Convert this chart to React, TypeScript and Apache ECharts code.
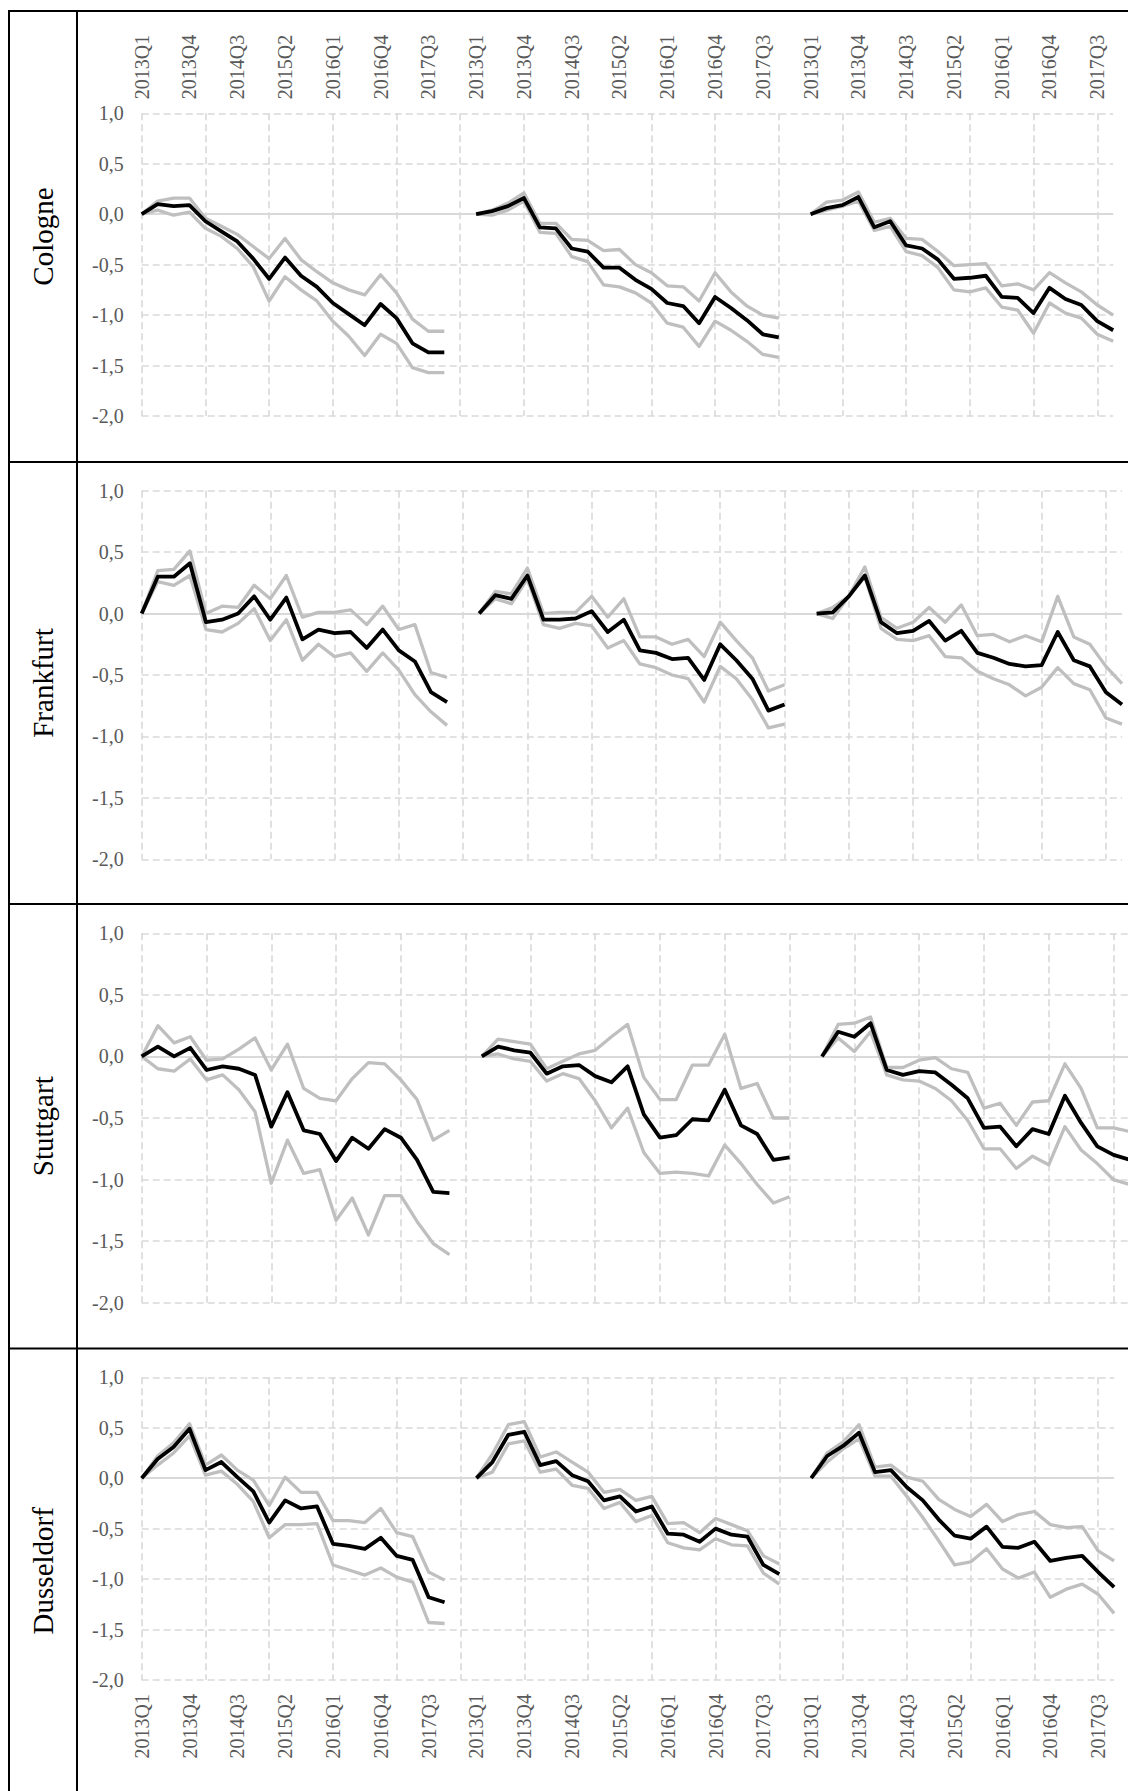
import React, { useEffect, useRef } from "react";
import * as echarts from "echarts";

// ---------- DATA ----------
const quarters = [
  "2013Q1", "2013Q2", "2013Q3", "2013Q4",
  "2014Q1", "2014Q2", "2014Q3", "2014Q4",
  "2015Q1", "2015Q2", "2015Q3", "2015Q4",
  "2016Q1", "2016Q2", "2016Q3", "2016Q4",
  "2017Q1", "2017Q2", "2017Q3", "2017Q4",
];
const cities = ["Cologne", "Frankfurt", "Stuttgart", "Dusseldorf"];
const yTicks = [-2, -1.5, -1, -0.5, 0, 0.5, 1];

// each city: three panels (left, middle, right)
const cologneMid = [
  [0, 0.10, 0.08, 0.09, -0.07, -0.17, -0.27, -0.44, -0.64, -0.43, -0.61, -0.72, -0.88, -0.99, -1.10, -0.89, -1.03, -1.28, -1.37, -1.37],
  [0, 0.03, 0.08, 0.16, -0.13, -0.14, -0.34, -0.37, -0.53, -0.53, -0.65, -0.74, -0.88, -0.91, -1.08, -0.82, -0.93, -1.05, -1.19, -1.22],
  [0, 0.06, 0.09, 0.17, -0.13, -0.07, -0.31, -0.34, -0.45, -0.64, -0.63, -0.61, -0.82, -0.83, -0.98, -0.73, -0.84, -0.90, -1.06, -1.15],
];
const cologneUp = [
  [0, 0.13, 0.16, 0.16, -0.04, -0.12, -0.20, -0.32, -0.44, -0.24, -0.45, -0.57, -0.68, -0.75, -0.80, -0.60, -0.78, -1.04, -1.16, -1.16],
  [0, 0.04, 0.11, 0.21, -0.09, -0.09, -0.25, -0.26, -0.36, -0.35, -0.50, -0.58, -0.71, -0.72, -0.86, -0.58, -0.77, -0.91, -1.00, -1.03],
  [0, 0.12, 0.14, 0.22, -0.08, -0.04, -0.24, -0.25, -0.37, -0.51, -0.50, -0.49, -0.71, -0.69, -0.75, -0.58, -0.68, -0.77, -0.90, -1.00],
];
const cologneLo = [
  [0, 0.04, -0.01, 0.02, -0.14, -0.22, -0.34, -0.52, -0.86, -0.62, -0.75, -0.86, -1.06, -1.21, -1.40, -1.19, -1.28, -1.52, -1.57, -1.57],
  [0, -0.01, 0.04, 0.13, -0.18, -0.19, -0.42, -0.47, -0.70, -0.72, -0.78, -0.88, -1.08, -1.12, -1.31, -1.06, -1.15, -1.26, -1.39, -1.42],
  [0, 0.04, 0.08, 0.13, -0.16, -0.12, -0.37, -0.41, -0.53, -0.75, -0.77, -0.73, -0.92, -0.95, -1.18, -0.88, -0.98, -1.03, -1.19, -1.26],
];

const frankfurtMid = [
  [0, 0.30, 0.30, 0.41, -0.07, -0.05, 0.00, 0.14, -0.05, 0.13, -0.21, -0.13, -0.16, -0.15, -0.28, -0.13, -0.30, -0.39, -0.64, -0.72],
  [0, 0.15, 0.12, 0.31, -0.05, -0.05, -0.04, 0.02, -0.15, -0.05, -0.30, -0.32, -0.37, -0.36, -0.54, -0.25, -0.38, -0.53, -0.79, -0.74],
  [0, 0.01, 0.14, 0.31, -0.07, -0.16, -0.14, -0.06, -0.22, -0.14, -0.32, -0.36, -0.41, -0.43, -0.42, -0.15, -0.38, -0.43, -0.64, -0.74],
];
const frankfurtUp = [
  [0, 0.35, 0.36, 0.51, 0.00, 0.06, 0.05, 0.23, 0.12, 0.31, -0.03, 0.01, 0.01, 0.03, -0.09, 0.06, -0.13, -0.09, -0.48, -0.52],
  [0, 0.18, 0.16, 0.37, 0.00, 0.01, 0.01, 0.14, -0.03, 0.12, -0.19, -0.19, -0.25, -0.21, -0.35, -0.07, -0.22, -0.36, -0.63, -0.58],
  [0, 0.05, 0.14, 0.38, -0.03, -0.12, -0.07, 0.05, -0.07, 0.07, -0.18, -0.17, -0.23, -0.18, -0.23, 0.14, -0.19, -0.25, -0.43, -0.57],
];
const frankfurtLo = [
  [0, 0.26, 0.23, 0.31, -0.13, -0.15, -0.08, 0.04, -0.22, -0.05, -0.38, -0.25, -0.35, -0.32, -0.47, -0.32, -0.46, -0.66, -0.80, -0.91],
  [0, 0.12, 0.08, 0.28, -0.09, -0.12, -0.08, -0.10, -0.28, -0.22, -0.41, -0.44, -0.50, -0.53, -0.72, -0.43, -0.53, -0.70, -0.93, -0.90],
  [0, -0.04, 0.14, 0.30, -0.12, -0.21, -0.22, -0.18, -0.35, -0.36, -0.47, -0.53, -0.58, -0.67, -0.60, -0.44, -0.57, -0.62, -0.85, -0.90],
];

const stuttgartMid = [
  [0, 0.08, 0.00, 0.07, -0.11, -0.08, -0.10, -0.15, -0.57, -0.29, -0.60, -0.63, -0.85, -0.66, -0.75, -0.59, -0.66, -0.84, -1.10, -1.11],
  [0, 0.08, 0.05, 0.03, -0.14, -0.08, -0.07, -0.16, -0.21, -0.08, -0.47, -0.66, -0.64, -0.51, -0.52, -0.27, -0.56, -0.63, -0.84, -0.82],
  [0, 0.20, 0.16, 0.27, -0.11, -0.15, -0.12, -0.13, -0.23, -0.34, -0.58, -0.57, -0.73, -0.59, -0.63, -0.32, -0.54, -0.73, -0.80, -0.84],
];
const stuttgartUp = [
  [0, 0.25, 0.11, 0.16, -0.03, -0.02, 0.06, 0.15, -0.11, 0.10, -0.26, -0.34, -0.36, -0.18, -0.05, -0.06, -0.19, -0.35, -0.68, -0.60],
  [0, 0.14, 0.12, 0.10, -0.10, -0.04, 0.02, 0.05, 0.16, 0.26, -0.17, -0.35, -0.35, -0.07, -0.07, 0.18, -0.26, -0.22, -0.50, -0.50],
  [0, 0.26, 0.27, 0.32, -0.09, -0.09, -0.03, -0.01, -0.10, -0.13, -0.42, -0.38, -0.56, -0.37, -0.36, -0.06, -0.26, -0.58, -0.58, -0.61],
];
const stuttgartLo = [
  [0, -0.10, -0.12, -0.02, -0.19, -0.15, -0.27, -0.45, -1.03, -0.68, -0.95, -0.92, -1.33, -1.15, -1.45, -1.13, -1.13, -1.34, -1.52, -1.61],
  [0, 0.02, -0.02, -0.04, -0.20, -0.14, -0.18, -0.36, -0.58, -0.42, -0.78, -0.95, -0.94, -0.95, -0.97, -0.72, -0.87, -1.04, -1.19, -1.14],
  [0, 0.15, 0.04, 0.20, -0.15, -0.19, -0.20, -0.26, -0.36, -0.52, -0.75, -0.75, -0.91, -0.81, -0.88, -0.57, -0.76, -0.87, -1.00, -1.04],
];

const dusseldorfMid = [
  [0, 0.19, 0.31, 0.49, 0.08, 0.16, 0.01, -0.13, -0.44, -0.22, -0.30, -0.28, -0.65, -0.67, -0.70, -0.59, -0.77, -0.81, -1.18, -1.23],
  [0, 0.16, 0.43, 0.46, 0.13, 0.17, 0.03, -0.03, -0.22, -0.18, -0.33, -0.28, -0.55, -0.56, -0.63, -0.50, -0.56, -0.58, -0.86, -0.95],
  [0, 0.22, 0.32, 0.45, 0.06, 0.08, -0.09, -0.22, -0.41, -0.57, -0.60, -0.48, -0.68, -0.69, -0.63, -0.82, -0.79, -0.77, -0.93, -1.08],
];
const dusseldorfUp = [
  [0, 0.22, 0.35, 0.54, 0.13, 0.23, 0.08, -0.02, -0.27, 0.01, -0.14, -0.14, -0.42, -0.42, -0.44, -0.30, -0.54, -0.58, -0.93, -1.01],
  [0, 0.24, 0.53, 0.56, 0.21, 0.26, 0.16, 0.06, -0.14, -0.11, -0.22, -0.18, -0.45, -0.44, -0.54, -0.40, -0.46, -0.52, -0.77, -0.85],
  [0, 0.25, 0.36, 0.53, 0.11, 0.13, 0.01, -0.03, -0.21, -0.31, -0.38, -0.26, -0.43, -0.36, -0.33, -0.46, -0.49, -0.48, -0.72, -0.82],
];
const dusseldorfLo = [
  [0, 0.13, 0.25, 0.42, 0.03, 0.07, -0.06, -0.23, -0.59, -0.46, -0.46, -0.45, -0.86, -0.91, -0.96, -0.89, -0.98, -1.03, -1.43, -1.44],
  [0, 0.06, 0.34, 0.37, 0.06, 0.09, -0.07, -0.10, -0.30, -0.24, -0.43, -0.37, -0.64, -0.69, -0.71, -0.60, -0.66, -0.67, -0.94, -1.05],
  [0, 0.16, 0.29, 0.39, 0.02, 0.02, -0.18, -0.39, -0.62, -0.86, -0.83, -0.70, -0.90, -0.99, -0.93, -1.18, -1.10, -1.05, -1.15, -1.34],
];

const midSeries = [cologneMid, frankfurtMid, stuttgartMid, dusseldorfMid];
const upSeries = [cologneUp, frankfurtUp, stuttgartUp, dusseldorfUp];
const loSeries = [cologneLo, frankfurtLo, stuttgartLo, dusseldorfLo];

// ---------- LAYOUT ----------
const W = 1128;
const H = 1791;
const GRIDS = [
  { left: 141.7, top: 113.3, width: 971.5, height: 302.7, labels: "top" },
  { left: 141.7, top: 490.7, width: 980.3, height: 368.6, labels: "none" },
  { left: 141.7, top: 933.3, width: 988.0, height: 369.4, labels: "none" },
  { left: 141.7, top: 1377.3, width: 972.4, height: 302.7, labels: "bottom" },
];
const ROW_LINES = [11, 462, 904, 1348.5];
const ROW_BOTTOM = H + 10;
const FONT = "'Liberation Serif', 'Times New Roman', serif";
const GRAY = "#bfbfbf";
const GRID_COLOR = "#d9d9d9";
const LABEL_COLOR = "#595959";

const categories: string[] = [...quarters, "", ...quarters, "", ...quarters];

function spread(panels: number[][]) {
  const out: (number | null)[] = new Array(categories.length).fill(null);
  panels.forEach((vals, p) => {
    vals.forEach((v, i) => {
      out[p * (quarters.length + 1) + i] = v;
    });
  });
  return out;
}

function buildOption() {
  const grid: any[] = [];
  const xAxis: any[] = [];
  const yAxis: any[] = [];
  const series: any[] = [];

  GRIDS.forEach((g, r) => {
    grid.push({
      left: g.left,
      top: g.top,
      width: g.width,
      height: g.height,
      containLabel: false,
      outerBoundsMode: "none",
    });
    xAxis.push({
      type: "category",
      gridIndex: r,
      data: categories,
      boundaryGap: false,
      position: g.labels === "top" ? "top" : "bottom",
      axisLine: { show: false },
      axisTick: { show: false },
      axisLabel: {
        show: g.labels !== "none",
        interval: 2,
        rotate: 90,
        margin: 14,
        color: LABEL_COLOR,
        fontSize: 20,
        fontFamily: FONT,
      },
      splitLine: {
        show: true,
        interval: 3,
        lineStyle: { color: GRID_COLOR, width: 1.6, type: [7, 4] },
      },
    });
    yAxis.push({
      type: "value",
      gridIndex: r,
      min: -2,
      max: 1,
      interval: 0.5,
      axisLine: { show: false },
      axisTick: { show: false },
      axisLabel: {
        margin: 18,
        color: LABEL_COLOR,
        fontSize: 20,
        fontFamily: FONT,
        formatter: (v: number) => (yTicks.includes(v) ? v.toFixed(1).replace(".", ",") : ""),
      },
      splitLine: {
        show: true,
        lineStyle: { color: GRID_COLOR, width: 1.6, type: [7, 4] },
      },
    });

    const common = {
      type: "line",
      xAxisIndex: r,
      yAxisIndex: r,
      showSymbol: false,
      symbol: "none",
      connectNulls: false,
      silent: true,
    };
    series.push({
      ...common,
      name: cities[r] + " upper",
      data: spread(upSeries[r]),
      lineStyle: { color: GRAY, width: 3.3, join: "round" },
      markLine: {
        silent: true,
        symbol: ["none", "none"],
        label: { show: false },
        lineStyle: { color: GRID_COLOR, type: "solid", width: 1.8 },
        data: [{ yAxis: 0 }],
        z: 1,
      },
      z: 2,
    });
    series.push({
      ...common,
      name: cities[r] + " lower",
      data: spread(loSeries[r]),
      lineStyle: { color: GRAY, width: 3.3, join: "round" },
      z: 3,
    });
    series.push({
      ...common,
      name: cities[r],
      data: spread(midSeries[r]),
      lineStyle: { color: "#000000", width: 3.8, join: "round" },
      z: 4,
    });
  });

  // table lines and city labels
  const graphic: any[] = [];
  const lineStyle = { stroke: "#000", lineWidth: 2 };
  graphic.push({ type: "line", shape: { x1: 9, y1: 11, x2: W, y2: 11 }, style: lineStyle, z: 100 });
  graphic.push({ type: "line", shape: { x1: 9, y1: 10, x2: 9, y2: ROW_BOTTOM }, style: lineStyle, z: 100 });
  graphic.push({ type: "line", shape: { x1: 77, y1: 10, x2: 77, y2: ROW_BOTTOM }, style: lineStyle, z: 100 });
  ROW_LINES.slice(1).forEach((y) => {
    graphic.push({ type: "line", shape: { x1: 9, y1: y, x2: W, y2: y }, style: lineStyle, z: 100 });
  });
  cities.forEach((c, r) => {
    const y0 = ROW_LINES[r];
    const y1 = r + 1 < ROW_LINES.length ? ROW_LINES[r + 1] : H + 2;
    graphic.push({
      type: "text",
      x: 43,
      y: (y0 + y1) / 2,
      rotation: Math.PI / 2,
      style: {
        text: c,
        fill: "#000",
        font: `normal 29px ${FONT}`,
        textAlign: "center",
        textVerticalAlign: "middle",
      },
      z: 100,
    });
  });

  return {
    animation: false,
    backgroundColor: "#ffffff",
    grid,
    xAxis,
    yAxis,
    series,
    graphic,
  };
}

export default function App() {
  const ref = useRef<HTMLDivElement>(null);
  useEffect(() => {
    if (!ref.current) return;
    const chart = echarts.init(ref.current, undefined, { renderer: "svg", width: W, height: H });
    chart.setOption(buildOption() as any);
    return () => chart.dispose();
  }, []);
  return (
    <div
      ref={ref}
      style={{ position: "absolute", left: 0, top: 0, width: W, height: H, background: "#fff", overflow: "hidden" }}
    />
  );
}
